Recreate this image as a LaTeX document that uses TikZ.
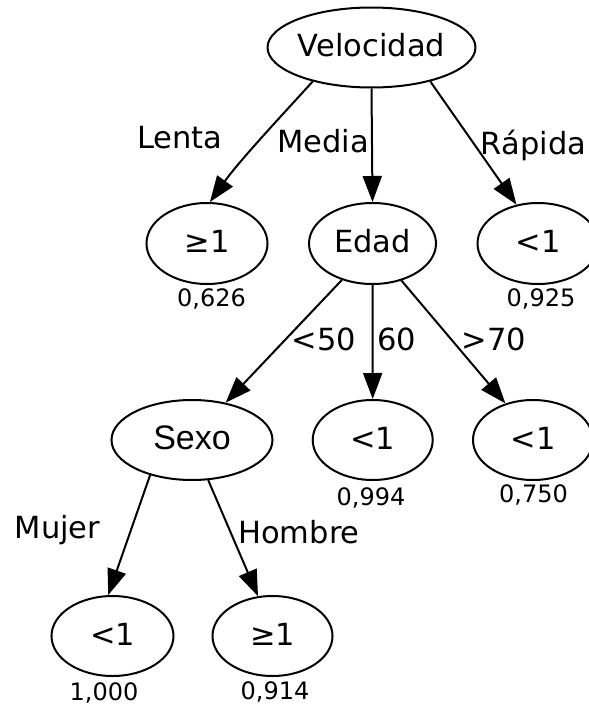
\documentclass[tikz,border=0pt]{standalone}
\usepackage{fontspec}
\setmainfont{DejaVu Sans}
\newfontfamily\arialfont{Liberation Sans}
\usetikzlibrary{arrows.meta,shapes.geometric}

\begin{document}
\begin{tikzpicture}[x=1pt,y=-1pt,
  decision/.style={ellipse, draw, line width=2pt, inner sep=0pt,
    text height=18pt, text depth=0pt, font=\fontsize{30.5}{36}\selectfont},
  edge/.style={line width=2pt, -{Triangle[length=26pt,width=19pt]}},
  branch/.style={anchor=base, inner sep=0pt, font=\fontsize{30.5}{36}\selectfont},
  score/.style={anchor=base, inner sep=0pt, font=\fontsize{24}{28}\selectfont}]
\useasboundingbox (0,0) rectangle (589,707);

% tree nodes
\node[decision, minimum width=203pt, minimum height=80pt] (vel) at (371.5,47.5) {Velocidad};
\node[decision, minimum width=121pt, minimum height=81pt] (lenta) at (207,243.5) {≥1};
\node[decision, minimum width=127pt, minimum height=81pt] (edad) at (372.5,243.5) {Edad};
\node[decision, minimum width=121pt, minimum height=81pt] (rap) at (538,243.5) {<1};
\node[decision, minimum width=161pt, minimum height=80pt, font=\arialfont\fontsize{34}{40}\selectfont] (sexo) at (192,440) {Sexo};
\node[decision, minimum width=120pt, minimum height=80pt] (e60) at (372.7,440) {<1};
\node[decision, minimum width=120pt, minimum height=80pt] (e70) at (533,440) {<1};
\node[decision, minimum width=122pt, minimum height=80pt] (muj) at (112.5,636) {<1};
\node[decision, minimum width=120pt, minimum height=80pt] (hom) at (272.5,636) {≥1};

% branches
\draw[edge] (vel.210) .. controls (285,112) and (240,160) .. (lenta.86);
\draw[edge] (vel.270) -- (edad.90);
\draw[edge] (vel.330) -- (rap.119);
\draw[edge] (edad.230) -- (sexo.48);
\draw[edge] (edad.270) -- (e60.90);
\draw[edge] (edad.308) -- (e70.127);
\draw[edge] (sexo.220) -- (muj.96);
\draw[edge] (sexo.292) -- (hom.110);

% branch labels
\node[branch] (lLenta) at (180,148) {Lenta};
\node[branch] (lMedia) at (323,152.5) {Media};
\node[branch] (lRapida) at (533.5,154) {Rápida};
\node[branch] (l50) at (324,350.5) {<50};
\node[branch] (l60) at (397,350.5) {60};
\node[branch] (l70) at (494,350.5) {>70};
\node[branch] (lMujer) at (57.5,538.5) {Mujer};
\node[branch] (lHombre) at (299,543) {Hombre};

% leaf scores
\node[score] (s1) at (211.5,306) {0,626};
\node[score] (s2) at (541,306) {0,925};
\node[score] (s3) at (371,505) {0,994};
\node[score] (s4) at (533.5,502.5) {0,750};
\node[score] (s5) at (104,700) {1,000};
\node[score] (s6) at (275,699.5) {0,914};
\end{tikzpicture}
\end{document}
